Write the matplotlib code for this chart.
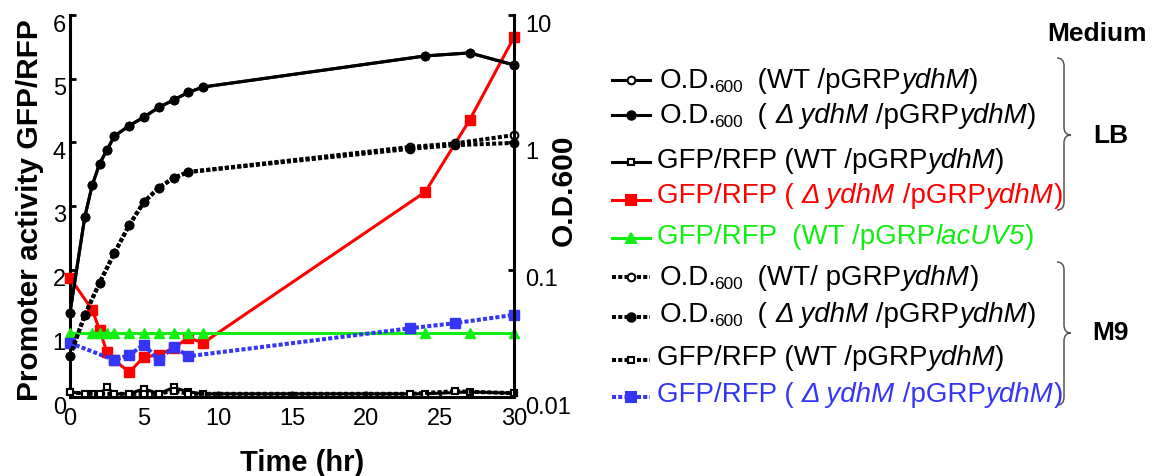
import matplotlib
matplotlib.use("Agg")
import matplotlib.pyplot as plt
from matplotlib.transforms import ScaledTranslation
from matplotlib.path import Path
from matplotlib.patches import PathPatch
from matplotlib.lines import Line2D
from matplotlib.ticker import NullLocator

# ---------------- data ----------------
time_lb = [0, 1, 1.5, 2, 2.5, 3, 4, 5, 6, 7, 8, 9, 24, 27, 30]
time_lb_gfp = [0, 1.5, 2, 2.5, 3, 4, 5, 6, 7, 8, 9, 24, 27, 30]
time_m9 = [0, 1, 2, 3, 4, 5, 6, 7, 8, 23, 26, 30]
time_m9_gfp_d = [0, 3, 4, 5, 6, 7, 8, 23, 26, 30]

od_lb_wt = [0.046, 0.26, 0.46, 0.68, 0.87, 1.12, 1.35, 1.58, 1.88, 2.15, 2.47, 2.72, 4.77, 5.04, 4.05]
od_lb_dydhm = [0.046, 0.26, 0.46, 0.68, 0.87, 1.12, 1.35, 1.58, 1.88, 2.15, 2.47, 2.72, 4.77, 5.04, 4.05]
od_m9_wt = [0.021, 0.044, 0.079, 0.135, 0.224, 0.34, 0.44, 0.525, 0.585, 0.92, 0.98, 1.14]
od_m9_dydhm = [0.021, 0.044, 0.079, 0.135, 0.224, 0.34, 0.44, 0.525, 0.585, 0.89, 0.95, 0.99]

gfp_lb_wt = [0.08, 0.05, 0.05, 0.05, 0.15, 0.05, 0.05, 0.13, 0.05, 0.15, 0.08, 0.05, 0.05, 0.08, 0.06]
gfp_lb_dydhm = [1.87, 1.37, 1.05, 0.70, 0.58, 0.39, 0.63, 0.66, 0.77, 0.93, 0.85, 3.22, 4.35, 5.65]
gfp_lacuv5 = [1.0, 1.0, 1.0, 1.0, 1.0, 1.0, 1.0, 1.0, 1.0, 1.0, 1.0, 1.0, 1.0, 1.0]
gfp_m9_wt = [0.08, 0.05, 0.05, 0.05, 0.05, 0.05, 0.05, 0.10, 0.05, 0.05, 0.09, 0.06]
gfp_m9_dydhm = [0.85, 0.58, 0.66, 0.82, 0.58, 0.79, 0.64, 1.08, 1.16, 1.29]

x_ticks = [0, 5, 10, 15, 20, 25, 30]
y_ticks = [0, 1, 2, 3, 4, 5, 6]
od_ticks = [0.01, 0.1, 1, 10]
od_tick_labels = ["0.01", "0.1", "1", "10"]

RED = "#FF0000"
GREEN = "#11EE11"
BLUE = "#3535F5"
BLACK = "#000000"

# ---------------- figure ----------------
W, H = 1155, 476
FONT = ["Liberation Sans", "DejaVu Sans"]
plt.rcParams["font.family"] = FONT
fig = plt.figure(figsize=(W / 100, H / 100), dpi=100)

L, R, T, B = 70, 514, 15, 397
ax = fig.add_axes([L / W, (H - B) / H, (R - L) / W, (B - T) / H])
ax2 = ax.twinx()

DOT = (0, (1.0, 0.55))
lw_s = 2.2
lw_d = 2.9

# left axis (GFP/RFP)
ax.plot(time_lb, gfp_lb_wt, color=BLACK, lw=lw_s, marker="s", ms=5, mfc="white",
        mec=BLACK, mew=1.5, clip_on=False, zorder=3)
ax.plot(time_m9, gfp_m9_wt, color=BLACK, lw=lw_d, ls=DOT, marker="s", ms=5, mfc="white",
        mec=BLACK, mew=1.5, clip_on=False, zorder=3)
ax.plot(time_lb_gfp, gfp_lb_dydhm, color=RED, lw=lw_s, marker="s", ms=6.5, mfc=RED,
        mec=RED, clip_on=False, zorder=4)
ax.plot(time_lb_gfp, gfp_lacuv5, color=GREEN, lw=lw_s, marker="^", ms=6.5, mfc=GREEN,
        mec=GREEN, clip_on=False, zorder=5)
ax.plot(time_m9_gfp_d, gfp_m9_dydhm, color=BLUE, lw=lw_d, ls=DOT, marker="s", ms=6.5,
        mfc=BLUE, mec=BLUE, clip_on=False, zorder=6)

# right axis (O.D.600)
ax2.set_yscale("log")
ax2.plot(time_lb, od_lb_wt, color=BLACK, lw=lw_s, marker="o", ms=5.5, mfc="white",
         mec=BLACK, mew=1.5, clip_on=False)
ax2.plot(time_lb, od_lb_dydhm, color=BLACK, lw=lw_s, marker="o", ms=6, mfc=BLACK,
         mec=BLACK, clip_on=False)
ax2.plot(time_m9, od_m9_wt, color=BLACK, lw=lw_d, ls=DOT, marker="o", ms=5.5, mfc="white",
         mec=BLACK, mew=1.5, clip_on=False)
ax2.plot(time_m9, od_m9_dydhm, color=BLACK, lw=lw_d, ls=DOT, marker="o", ms=6, mfc=BLACK,
         mec=BLACK, clip_on=False)

ax.set_xlim(0, 30)
ax.set_ylim(0, 6)
ax2.set_ylim(0.01, 10)

ax.set_xticks(x_ticks)
ax.set_xticklabels([str(v) for v in x_ticks])
ax.set_yticks(y_ticks)
ax.set_yticklabels([str(v) for v in y_ticks])
ax2.set_yticks(od_ticks)
ax2.set_yticklabels(od_tick_labels)
ax2.yaxis.set_minor_locator(NullLocator())

for s in ("top", "right"):
    ax.spines[s].set_visible(False)
for s in ("top", "left", "bottom"):
    ax2.spines[s].set_visible(False)
ax.spines["left"].set_linewidth(2.2)
ax.spines["bottom"].set_linewidth(2.2)
ax2.spines["right"].set_linewidth(2.2)

ax.tick_params(axis="both", direction="in", length=4, width=2, labelsize=17)
ax.tick_params(axis="x", pad=8)
ax.tick_params(axis="y", pad=3)
ax2.tick_params(axis="y", which="both", direction="in", length=4, width=2, labelsize=17, pad=8)

off = ScaledTranslation(0, -0.08, fig.dpi_scale_trans)
for lab in ax.get_yticklabels():
    lab.set_transform(lab.get_transform() + off)
for lab in ax2.get_yticklabels():
    lab.set_transform(lab.get_transform() + off)

# axis titles
fig.text(30 / W, 1 - 210 / H, "Promoter activity GFP/RFP", rotation=90, ha="center",
         va="center", fontsize=21.5, fontweight="bold")
fig.text(302 / W, 1 - 471 / H, "Time (hr)", ha="center", va="baseline", fontsize=21,
         fontweight="bold")
fig.text(564 / W, 1 - 190 / H, "O.D.600", rotation=90, ha="center", va="center",
         fontsize=21.5, fontweight="bold")

# ---------------- custom legend ----------------
renderer = fig.canvas.get_renderer()


def text_width(s, size, style):
    t1 = fig.text(0, 0, "|" + s + "|", fontsize=size, fontstyle=style)
    t2 = fig.text(0, 0, "||", fontsize=size, fontstyle=style)
    w = t1.get_window_extent(renderer).width - t2.get_window_extent(renderer).width
    t1.remove()
    t2.remove()
    return w


def rich(x, y, segs, size, color):
    cx = x
    for s, kind in segs:
        fs = size * 0.62 if kind == "sub" else size
        style = "italic" if kind == "it" else "normal"
        yy = y + (4 if kind == "sub" else 0)
        if kind == "sub":
            cx -= 3
        fig.text(cx / W, 1 - yy / H, s, fontsize=fs, fontstyle=style, color=color,
                 ha="left", va="baseline")
        cx += text_width(s, fs, style)


def legend_marker(y, color, ls, marker, mfc, ms):
    fig.add_artist(Line2D([612 / W, 650 / W], [1 - y / H] * 2, transform=fig.transFigure,
                          color=color, lw=lw_s if ls == "-" else lw_d, ls=ls))
    fig.add_artist(Line2D([631 / W], [1 - y / H], transform=fig.transFigure, ls="none",
                          marker=marker, ms=ms, mfc=mfc, mec=color, mew=1.5))


LS = 20
n, it, sub = "n", "it", "sub"
rows = [
    (88, 80, BLACK, "-", "o", "white", 5.5, 660,
     [("O.D.", n), ("600", sub), ("  (WT /pGRP", n), ("ydhM", it), (")", n)]),
    (123, 115, BLACK, "-", "o", BLACK, 6, 660,
     [("O.D.", n), ("600", sub), ("  ( ", n), ("\u0394 ydhM", it), (" /pGRP", n), ("ydhM", it), (")", n)]),
    (168, 162, BLACK, "-", "s", "white", 5, 657,
     [("GFP/RFP (WT /pGRP", n), ("ydhM", it), (")", n)]),
    (203, 200, RED, "-", "s", RED, 6.5, 657,
     [("GFP/RFP ( ", n), ("\u0394 ydhM", it), (" /pGRP", n), ("ydhM", it), (")", n)]),
    (244, 238, GREEN, "-", "^", GREEN, 6.5, 657,
     [("GFP/RFP  (WT /pGRP", n), ("lacUV5", it), (")", n)]),
    (285, 277, BLACK, DOT, "o", "white", 5.5, 660,
     [("O.D.", n), ("600", sub), ("  (WT/ pGRP", n), ("ydhM", it), (")", n)]),
    (322, 317, BLACK, DOT, "o", BLACK, 6, 660,
     [("O.D.", n), ("600", sub), ("  ( ", n), ("\u0394 ydhM", it), (" /pGRP", n), ("ydhM", it), (")", n)]),
    (365, 360, BLACK, DOT, "s", "white", 5, 657,
     [("GFP/RFP (WT /pGRP", n), ("ydhM", it), (")", n)]),
    (402, 397, BLUE, DOT, "s", BLUE, 6.5, 657,
     [("GFP/RFP ( ", n), ("\u0394 ydhM", it), (" /pGRP", n), ("ydhM", it), (")", n)]),
]
for base, my, col, ls, mk, mfc, ms, tx, segs in rows:
    legend_marker(my, col, ls, mk, mfc, ms)
    rich(tx, base, segs, LS, col)


def brace(x0, xm, xt, ytop, ytip, ybot, r):
    pts = [(x0, ytop), (xm, ytop), (xm, ytop + r), (xm, ytip - r), (xm, ytip), (xt, ytip),
           (xm, ytip), (xm, ytip + r), (xm, ybot - r), (xm, ybot), (x0, ybot)]
    codes = [Path.MOVETO, Path.CURVE3, Path.CURVE3, Path.LINETO, Path.CURVE3, Path.CURVE3,
             Path.CURVE3, Path.CURVE3, Path.LINETO, Path.CURVE3, Path.CURVE3]
    verts = [(x / W, 1 - y / H) for x, y in pts]
    fig.add_artist(PathPatch(Path(verts, codes), transform=fig.transFigure, fill=False,
                             edgecolor="#555555", lw=1.1))


brace(1057, 1064, 1071, 58, 135, 210, 8)
brace(1057, 1064, 1071, 262, 333, 405, 8)

fig.text(1097 / W, 1 - 41 / H, "Medium", ha="center", va="baseline", fontsize=19,
         fontweight="bold")
fig.text(1111 / W, 1 - 143 / H, "LB", ha="center", va="baseline", fontsize=19,
         fontweight="bold")
fig.text(1111 / W, 1 - 340 / H, "M9", ha="center", va="baseline", fontsize=19,
         fontweight="bold")

fig.savefig("out.png", dpi=100)
